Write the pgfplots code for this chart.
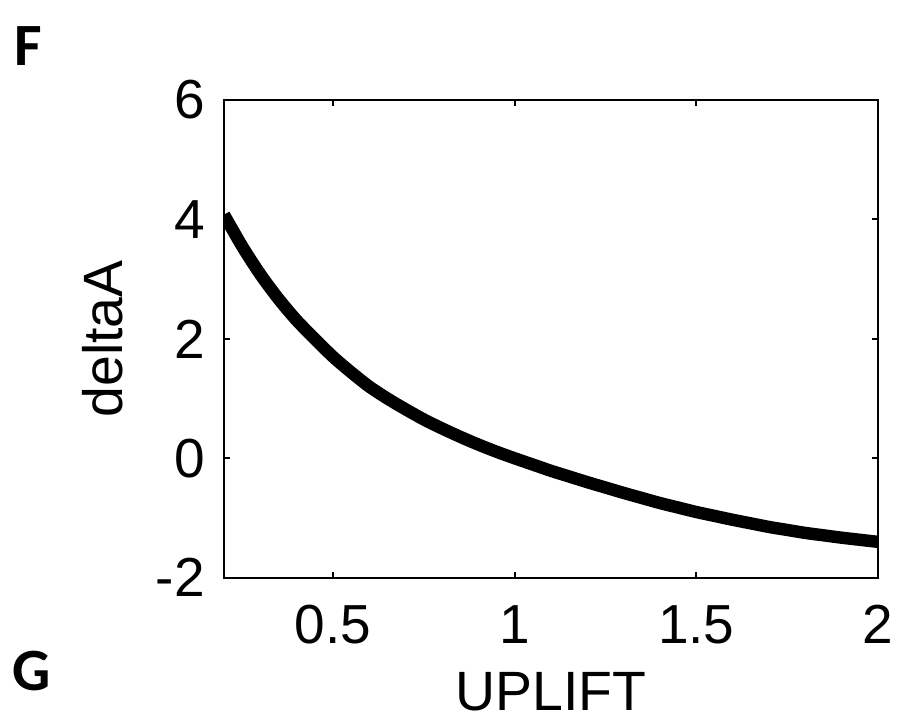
\documentclass[border=0pt]{standalone}
\usepackage{pgfplots}
\pgfplotsset{compat=1.18}
\usepackage{fontspec}
\setmainfont{Liberation Sans}
\newfontfamily\carlito{Carlito}
\pgfplotstableread{
x y
0.20 4.08
0.25 3.55
0.30 3.08
0.35 2.67
0.40 2.31
0.45 2.00
0.50 1.70
0.55 1.44
0.60 1.20
0.65 1.00
0.70 0.82
0.75 0.65
0.80 0.50
0.85 0.36
0.90 0.23
0.95 0.11
1.00 0.00
1.05 -0.105
1.10 -0.21
1.15 -0.305
1.20 -0.40
1.25 -0.49
1.30 -0.58
1.35 -0.665
1.40 -0.75
1.45 -0.825
1.50 -0.90
1.55 -0.965
1.60 -1.03
1.65 -1.09
1.70 -1.15
1.75 -1.20
1.80 -1.25
1.85 -1.29
1.90 -1.33
1.95 -1.365
2.00 -1.40
}\curve
\begin{document}
\begin{tikzpicture}
\useasboundingbox (-112pt,-73.15pt) rectangle (336.5pt,288.85pt);
\begin{axis}[
  at={(0,0)}, anchor=south west,
  scale only axis,
  width=327pt, height=238.85pt,
  xmin=0.2, xmax=2, ymin=-2, ymax=6,
  xtick={0.5,1,1.5,2}, xticklabels={0.5,1,1.5,2},
  ytick={-2,0,2,4,6}, yticklabels={-2,0,2,4,6},
  tick align=inside,
  major tick length=3pt,
  axis line style={line width=1pt},
  every tick/.style={black, line width=1pt},
  tick label style={font=\fontsize{27.5}{33}\selectfont},
  xticklabel style={anchor=north, inner sep=0pt, yshift=-13.6pt},
  yticklabel style={anchor=east, inner sep=0pt, xshift=-9.5pt},
  xlabel={UPLIFT}, ylabel={deltaA},
  label style={font=\fontsize{27.7}{33}\selectfont},
  xlabel style={at={(axis description cs:0.5,0)}, anchor=north, inner sep=0pt, yshift=-47.2pt},
  ylabel style={at={(axis description cs:0,0.5)}, anchor=south, inner sep=0pt, yshift=50.5pt},
]
\addplot[black, line width=6.2pt, smooth] table[x=x, y=y] {\curve};
\end{axis}
\node[anchor=base west, inner sep=0pt, font=\carlito\bfseries\fontsize{30}{36}\selectfont] at (-105pt,255.85pt) {F};
\node[anchor=base west, inner sep=0pt, font=\carlito\bfseries\fontsize{30}{36}\selectfont] at (-106pt,-56.4pt) {G};
\end{tikzpicture}
\end{document}
